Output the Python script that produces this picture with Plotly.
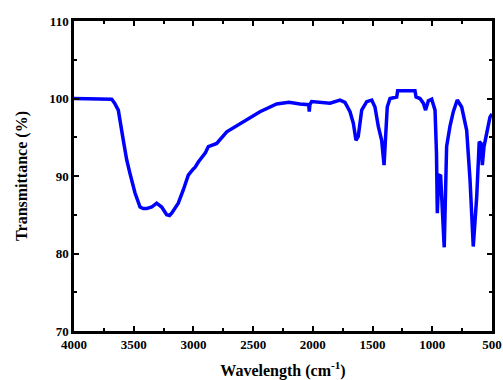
import plotly.graph_objects as go

wavenumber = [4000, 3700, 3684, 3660, 3629, 3587, 3559, 3531, 3517, 3489, 3447, 3420, 3391,
              3349, 3308, 3266, 3224, 3200, 3182, 3127, 3085, 3043, 3001, 2987, 2959, 2945,
              2931, 2900, 2875, 2805, 2721, 2582, 2443, 2303, 2200, 2108, 2066, 2035, 2030,
              2025, 2010, 1913, 1856, 1773, 1731, 1689, 1661, 1639, 1620, 1591, 1549, 1507,
              1480, 1452, 1424, 1404, 1388, 1377, 1354, 1298, 1290, 1145, 1136, 1103, 1075,
              1056, 1033, 1005, 977, 965, 958, 952, 945, 930, 900, 880, 852, 824, 791, 754,
              712, 684, 657, 628, 607, 592, 581, 567, 544, 517, 500]
transmittance = [100.0, 100.0, 99.9, 99.4, 98.5, 94.6, 92.1, 90.3, 89.5, 87.8, 86.0, 85.8, 85.8,
                 86.0, 86.5, 86.0, 85.0, 84.9, 85.2, 86.5, 88.2, 90.1, 90.9, 91.1, 91.8, 92.1,
                 92.5, 93.0, 93.8, 94.2, 95.7, 97.0, 98.3, 99.3, 99.5, 99.3, 99.25, 99.2, 98.3,
                 99.2, 99.6, 99.5, 99.4, 99.8, 99.5, 98.3, 96.8, 94.6, 95.1, 98.5, 99.6, 99.8,
                 98.9, 96.4, 94.6, 91.4, 95.1, 98.9, 100.0, 100.2, 101.0, 101.0, 100.2, 100.0, 99.4,
                 98.5, 99.7, 99.9, 98.5, 93.0, 85.2, 89.5, 90.1, 90.0, 80.8, 93.8, 96.4, 98.3, 99.8, 98.9,
                 95.9, 89.5, 80.9, 87.3, 94.4, 94.2, 91.4, 93.8, 95.5, 97.6, 98.0]

x_ticks = [4000, 3500, 3000, 2500, 2000, 1500, 1000, 500]
y_ticks = [70, 80, 90, 100, 110]

SERIF = "Liberation Serif"

fig = go.Figure()
fig.add_trace(go.Scatter(x=wavenumber, y=transmittance, mode="lines",
                         line=dict(color="#0000ff", width=3.5), showlegend=False))

axis_common = dict(showline=True, linecolor="black", linewidth=2.5, mirror="allticks",
                   ticks="inside", ticklen=5, tickwidth=2, tickcolor="black",
                   showgrid=False, zeroline=False, automargin=False,
                   tickfont=dict(family=SERIF, size=13, color="black", weight="bold"))

fig.update_xaxes(range=[4000, 500], tickvals=x_ticks, ticktext=[str(v) for v in x_ticks],
                 minor=dict(ticks="inside", dtick=250, ticklen=3, tickwidth=2, tickcolor="black", showgrid=False),
                 title=dict(text="Wavelength (cm<sup>-1</sup>)", standoff=19,
                            font=dict(family=SERIF, size=16, color="black", weight="bold")),
                 **axis_common)
fig.update_yaxes(range=[70, 110], tickvals=y_ticks, ticktext=[str(v) for v in y_ticks],
                 minor=dict(ticks="inside", dtick=5, ticklen=3, tickwidth=2, tickcolor="black", showgrid=False),
                 title=dict(text="Transmittance (%)", standoff=18,
                            font=dict(family=SERIF, size=16, color="black", weight="bold")),
                 **axis_common)

fig.update_layout(width=503, height=380, margin=dict(l=74, r=11, t=21, b=49),
                  plot_bgcolor="white", paper_bgcolor="white",
                  font=dict(family=SERIF, size=13, color="black"))

# remove the default page margin so the figure fills the window exactly
fig.write_html("out.html", config={"displayModeBar": False},
               post_script="document.body.style.margin='0';document.body.style.overflow='hidden';")
